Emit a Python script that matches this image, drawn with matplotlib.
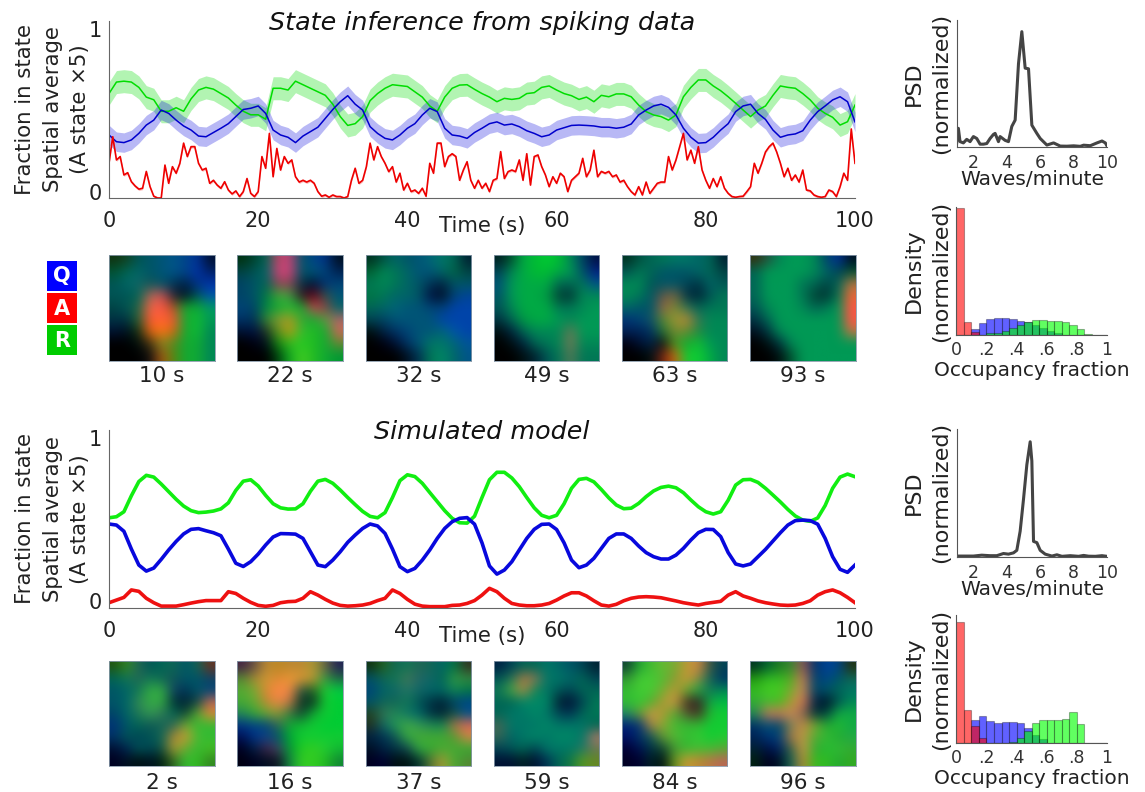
import numpy as np
import matplotlib
matplotlib.use('Agg')
import matplotlib.pyplot as plt

W, H = 1145, 792

time_1s = list(range(101))
time_half = [i * 0.5 for i in range(201)]

# top panel, inferred from spiking data
spike_green = [.59, .655, .66, .655, .625, .57, .555, .49, .49, .51, .49, .56, .61, .625, .615, .59, .565, .525, .49,
               .47, .47, .445, .62, .62, .61, .66, .64, .62, .60, .58, .53, .46, .41, .42, .46, .55, .59, .62, .64,
               .635, .63, .60, .57, .52, .49, .57, .62, .638, .64, .614, .59, .57, .544, .563, .557, .563, .59, .595,
               .625, .633, .61, .59, .578, .557, .57, .544, .58, .572, .588, .588, .572, .525, .488, .469, .46, .44,
               .469, .572, .625, .667, .667, .633, .606, .572, .535, .497, .46, .497, .52, .58, .633, .625, .62, .59,
               .554, .507, .478, .456, .412, .431, .525]
spike_blue = [.356, .318, .313, .328, .365, .412, .44, .497, .478, .44, .407, .384, .35, .346, .37, .394, .42, .46, .50,
              .507, .52, .478, .384, .356, .343, .313, .35, .375, .40, .45, .50, .544, .578, .53, .497, .403, .365,
              .337, .328, .356, .394, .42, .469, .507, .488, .394, .356, .35, .337, .37, .394, .42, .43, .412, .418,
              .403, .38, .365, .346, .356, .384, .397, .41, .412, .41, .407, .40, .40, .394, .40, .418, .469, .497,
              .52, .53, .512, .469, .394, .343, .31, .313, .343, .384, .42, .488, .52, .53, .478, .444, .384, .343,
              .356, .362, .38, .44, .488, .52, .554, .572, .544, .43]
spike_red = [.196, .346, .215, .234, .13, .143, .092, .068, .05, .055, .15, .064, .01, 0, 0, .186, .083, .177, .14, .196,
             .31, .234, .29, .29, .196, .158, .168, .083, .10, .073, .055, .092, .045, .023, .04, .008, .036, .11, .026,
             .008, .036, .234, .168, .365, .12, .28, .158, .234, .196, .215, .12, .09, .10, .09, .10, .083, .036, .01,
             .017, .004, .017, .008, .008, 0, .008, .10, .168, .083, .10, .177, .31, .215, .29, .234, .196, .149, .177,
             .09, .14, .045, .083, .036, .045, .026, .055, .01, .196, .14, .31, .31, .177, .234, .25, .234, .10, .158,
             .205, .10, .055, .10, .055, .083, .036, .10, .11, .262, .11, .149, .158, .149, .215, .10, .25, .073, .234,
             .243, .177, .13, .064, .12, .083, .14, .12, .036, .10, .12, .14, .224, .12, .158, .27, .12, .15, .14, .15,
             .12, .13, .09, .10, .064, .036, .017, .064, .017, .09, .026, .055, .083, .09, .09, .234, .158, .215, .29,
             .365, .215, .27, .196, .29, .158, .10, .055, .11, .064, .12, .055, .026, .008, .004, .008, .01, .036, .064,
             .196, .14, .196, .26, .29, .31, .26, .196, .12, .168, .10, .13, .09, .158, .045, .04, .017, .008, .004,
             .008, .045, .036, .008, .064, .14, .10, .39, .196]

# bottom panel, simulated model
model_green = [.506, .512, .54, .63, .71, .745, .735, .696, .653, .61, .572, .546, .535, .538, .544, .556, .59, .66,
               .712, .72, .685, .632, .585, .562, .555, .556, .585, .655, .712, .722, .70, .662, .62, .58, .542, .514,
               .506, .535, .62, .715, .748, .738, .70, .648, .597, .546, .503, .478, .476, .515, .62, .72, .762, .762,
               .73, .681, .62, .562, .52, .506, .52, .585, .672, .722, .728, .708, .665, .618, .578, .557, .56, .587,
               .625, .657, .677, .684, .675, .647, .606, .568, .54, .527, .54, .605, .69, .72, .722, .705, .672, .634,
               .595, .553, .516, .493, .486, .505, .575, .672, .735, .752, .737]
model_blue = [.471, .465, .43, .33, .24, .206, .223, .272, .325, .373, .415, .441, .445, .433, .422, .405, .33, .25,
              .232, .259, .302, .353, .398, .417, .416, .414, .39, .315, .24, .231, .268, .315, .368, .409, .446, .471,
              .46, .418, .33, .231, .203, .221, .268, .325, .39, .446, .484, .503, .507, .47, .365, .235, .189, .212,
              .259, .325, .39, .441, .469, .471, .44, .365, .268, .225, .24, .278, .334, .39, .415, .415, .39, .347,
              .31, .287, .274, .274, .296, .334, .381, .422, .441, .44, .40, .31, .246, .235, .246, .287, .328, .375,
              .422, .465, .49, .493, .49, .47, .39, .287, .216, .199, .24]
model_red = [.028, .043, .058, .10, .092, .053, .028, .009, .009, .009, .017, .026, .034, .04, .04, .04, .09, .08, .053,
             .03, .013, .008, .013, .028, .034, .036, .053, .09, .071, .047, .026, .013, .009, .011, .015, .024, .04,
             .053, .10, .08, .047, .02, .009, .006, .006, .006, .013, .015, .024, .04, .071, .109, .09, .053, .024,
             .015, .011, .011, .015, .024, .043, .066, .084, .084, .066, .039, .015, .009, .019, .039, .053, .06, .062,
             .06, .056, .047, .038, .028, .021, .015, .024, .03, .036, .071, .09, .066, .053, .038, .028, .021, .015,
             .013, .015, .024, .039, .071, .09, .10, .084, .058, .028]

# power spectra
psd_x_top = [1, 1.1, 1.2, 1.4, 1.6, 1.8, 2, 2.2, 2.4, 2.6, 2.8, 3, 3.2, 3.3, 3.5, 3.6, 3.9, 4.1, 4.3, 4.5, 4.7, 4.9, 5.1,
             5.3, 5.5, 5.8, 6, 6.4, 6.8, 7.2, 7.6, 8, 8.4, 8.6, 9, 9.4, 9.7, 9.9, 10]
psd_y_top = [.03, .145, .04, .03, .058, .04, .08, .065, .02, .02, .025, .065, .097, .105, .04, .08, .05, .04, .16, .21,
             .655, .908, .62, .615, .17, .105, .065, .013, .03, .005, .004, .007, .003, .012, .008, .03, .045, .03, .006]
psd_x_bot = [1, 1.5, 2, 2.5, 3, 3.4, 3.8, 4.1, 4.4, 4.6, 4.8, 5, 5.2, 5.4, 5.5, 5.6, 5.8, 6, 6.3, 6.7, 7, 7.3, 7.8, 8.3,
             8.6, 8.9, 9.3, 9.7, 10]
psd_y_bot = [.005, .005, .005, .012, .008, .008, .025, .02, .03, .05, .2, .45, .72, .9, .75, .12, .11, .05, .02, .005,
             .015, .003, .008, .003, .01, .004, .003, .008, .003]

# occupancy histograms, 20 bins of width .05
bin_left = [i * 0.05 for i in range(20)]
hist_red_top = [.995, .104, .026, 0, 0, 0, 0, 0, 0, 0, 0, 0, 0, 0, 0, 0, 0, 0, 0, 0]
hist_blue_top = [0, 0, .05, .096, .125, .13, .13, .125, .112, .104, .078, .052, .03, .012, 0, 0, 0, 0, 0, 0]
hist_green_top = [0, 0, 0, 0, .013, .018, .034, .052, .078, .104, .117, .117, .112, .109, .104, .078, .044, .008, 0, 0]
hist_red_bot = [.943, .255, .13, .04, 0, 0, 0, 0, 0, 0, 0, 0, 0, 0, 0, 0, 0, 0, 0, 0]
hist_blue_bot = [0, 0, .18, .208, .174, .16, .166, .166, .156, .117, .065, .03, 0, 0, 0, 0, 0, 0, 0, 0]
hist_green_bot = [0, 0, 0, 0, 0, 0, 0, .008, .04, .096, .156, .177, .182, .177, .187, .24, .15, 0, 0, 0]

tick_time = [0, 20, 40, 60, 80, 100]
tick_psd = [2, 4, 6, 8, 10]
tick_occ = [0, .2, .4, .6, .8, 1]
tick_occ_labels = ['0', '.2', '.4', '.6', '.8', '1']

labels_top = ['10 s', '22 s', '32 s', '49 s', '63 s', '93 s']
labels_bot = ['2 s', '16 s', '37 s', '59 s', '84 s', '96 s']

# snapshot frames, coarse RGB in one hex digit per channel
frames_top = [
    ['131 142 055 056 057 058 048 039 013', '053 065 066 056 057 058 048 03a 026', '055 066 166 155 056 035 024 038 03a',
     '055 055 065 a65 c55 223 012 055 05a', '044 055 264 e64 f54 a52 1a3 1a3 096', '034 034 263 f53 f63 e53 1a3 1b3 095',
     '013 012 131 d61 f71 c61 1a3 1b3 085', '000 000 011 431 882 582 1a3 1a3 085', '000 000 000 111 a51 581 1a3 1a3 085'],
    ['031 043 065 b46 b47 056 048 038 012', '044 055 066 c47 c47 056 057 047 025', '046 056 065 845 845 034 013 037 047',
     '046 056 074 4a3 494 312 601 354 057', '047 046 084 1a3 2b3 1a3 c45 844 066', '036 035 383 893 a92 3a3 1a3 694 a66',
     '013 014 232 592 b91 3b3 2b2 1a3 c65', '000 001 012 181 3b2 2c2 2b2 1a3 683', '000 000 000 041 1a2 4c2 2b2 1a3 093'],
    ['032 054 066 056 057 067 076 065 023', '063 085 075 066 057 057 066 064 044', '075 085 075 066 056 035 024 056 056',
     '074 075 066 066 056 014 012 047 049', '065 066 067 057 057 047 047 04a 04a', '045 046 057 057 057 057 04a 04a 04a',
     '011 024 036 047 057 057 067 05a 04a', '000 001 013 036 057 076 076 067 059', '000 000 000 012 035 075 086 066 058'],
    ['022 053 0a4 0b3 0c3 0b3 085 046 014', '045 085 0a4 0b3 0b3 0a4 095 056 028', '057 095 0a4 0a4 0a4 065 065 075 058',
     '056 095 0a4 0a4 094 043 033 085 085', '055 085 0a4 0a4 0a4 075 075 085 095', '034 065 094 0a4 0a4 095 085 095 095',
     '011 024 065 085 085 085 675 095 095', '000 011 024 065 075 085 775 085 085', '000 000 011 023 055 075 575 075 075'],
    ['032 054 065 075 076 076 066 065 023', '055 075 065 056 056 056 066 065 044', '085 085 055 056 056 045 034 066 055',
     '085 075 056 654 764 034 023 055 075', '066 056 056 964 783 375 065 075 075', '037 047 156 583 993 b83 375 085 085',
     '025 025 036 273 783 683 284 085 085', '001 013 024 111 492 1a3 1b3 095 085', '000 000 011 721 c61 1c3 1c3 0a4 085'],
    ['331 254 085 095 095 085 046 039 012', '065 095 095 095 095 085 066 045 053', '065 095 095 095 075 065 044 065 a74',
     '065 095 095 095 075 043 033 075 e63', '055 085 095 095 085 065 075 095 f54', '034 065 095 095 095 095 095 095 f54',
     '012 034 085 095 095 095 095 095 b74', '000 011 034 085 095 095 095 095 095', '000 000 011 053 095 095 095 095 095'],
]
frames_bot = [
    ['251 382 265 055 065 165 056 165 632', '065 175 265 175 165 155 056 056 146', '056 066 175 3a4 3a4 146 035 056 047',
     '056 066 385 3a4 3a4 033 023 144 b65', '046 066 275 395 375 065 143 5a3 d83', '037 056 065 155 165 365 7a3 3b3 3b3',
     '036 055 045 055 165 a83 c93 4b3 3b3', '013 025 055 045 154 a93 6a3 3b3 4b2', '002 012 011 012 021 362 3b3 3b2 382'],
    ['424 654 b83 b82 b83 b83 a93 664 225', '583 a83 c93 d83 e93 d93 b93 394 264', '5a3 7a3 d83 f84 e84 254 262 2c3 0c4',
     '4a3 6a3 b83 e84 b74 032 132 1c3 0c3', '285 3a3 6a3 893 374 143 1a3 1c3 0c3', '038 048 047 365 1a3 1b3 1c3 0c3 0c3',
     '015 038 148 056 0a3 1c3 1c3 1c3 1c3', '002 024 424 446 093 2c2 3c2 2c3 1b3', '001 002 012 112 184 3c2 3c2 2b2 183'],
    ['131 262 165 175 265 165 066 074 332', '056 165 175 475 266 166 065 394 384', '047 066 166 276 166 066 066 185 074',
     '056 165 165 175 055 034 023 046 048', '242 375 285 176 066 034 023 154 058', '232 166 295 4a4 395 285 185 a74 d65',
     '024 035 155 3a4 4a3 4a3 4a3 593 c84', '012 024 034 145 3a4 3a3 4a3 4a3 3a3', '002 003 011 011 033 573 a93 4a3 583'],
    ['024 045 065 065 076 066 056 045 023', '055 275 a74 875 076 076 066 065 045', '175 4a4 a84 185 076 055 045 065 065',
     '065 065 086 086 086 023 013 045 075', '065 076 076 086 076 045 035 065 075', '465 076 076 076 086 076 076 076 065',
     '365 066 076 086 076 086 086 076 a76', '045 055 065 045 076 076 076 276 675', '013 013 022 013 035 065 174 592 682'],
    ['143 2a3 4b3 6b3 7a3 b93 c84 354 045', '393 4c3 4c3 5b3 893 c93 884 165 036', '3b3 4c3 4c3 7a3 b93 6a3 2a4 175 085',
     '3b3 3c3 5a3 a93 c94 432 322 1a4 0b4', '286 693 c94 a93 5a3 553 432 2b3 1c3', '027 037 a84 8a3 4b3 3b3 3b3 1c3 1c3',
     '016 036 155 693 5b3 3b3 3c3 1c3 2c3', '003 015 034 143 493 3b3 4b3 4b3 5a3', '002 003 022 011 692 c93 b83 b74 b65'],
    ['032 063 272 383 955 036 049 048 231', '291 3b2 3b2 5a2 c75 046 048 056 165', '3b2 4c2 4c2 7a3 c85 046 056 065 076',
     '3a3 4b3 4b2 a93 d75 024 012 055 085', '285 c75 c75 c85 865 033 044 1a4 1a4', '036 057 046 785 c84 7a3 2a3 2b3 1a4',
     '025 037 047 a74 b94 5a3 3b3 2a3 2a4', '023 014 026 364 c94 3a3 2b3 3b3 3a3', '021 002 012 165 b83 3b2 3b2 2a3 3a2'],
]

state_names = ['Q', 'A', 'R']
state_colors = ['#0000ff', '#ff0000', '#00cc00']


def px_axes(fig, left, top, right, bottom):
    return fig.add_axes([left / W, 1 - bottom / H, (right - left) / W, (bottom - top) / H])


def clean_axes(ax, color):
    ax.spines['top'].set_visible(False)
    ax.spines['right'].set_visible(False)
    ax.spines['left'].set_color(color)
    ax.spines['bottom'].set_color(color)
    ax.patch.set_alpha(0)


def frame_to_rgb(rows):
    return np.array([[[int(c, 16) / 15 for c in cell] for cell in row.split()] for row in rows])


def time_panel(ax, title):
    clean_axes(ax, '#666666')
    ax.set_xlim(0, 100)
    ax.set_ylim(0, 1)
    ax.set_xticks(tick_time)
    ax.set_yticks([.035, .955], ['0', '1'])
    ax.tick_params(length=0, labelsize=15, labelcolor='#222222')
    ax.tick_params(axis='x', pad=9.5)
    ax.tick_params(axis='y', pad=5)
    ax.set_xlabel('Time (s)', fontsize=15.3, labelpad=-11, color='#222222')
    ax.set_ylabel('Fraction in state\nSpatial average\n(A state \u00d75)', fontsize=15.3, labelpad=-1,
                  linespacing=1.46, color='#222222')
    ax.set_title(title, y=0.95, pad=0, fontsize=18.3, style='italic', color='#111111')


def psd_panel(ax, x, y):
    clean_axes(ax, '#555555')
    ax.plot(x, y, color='#444444', lw=2.2, solid_joinstyle='round')
    ax.set_xlim(1, 10)
    ax.set_ylim(0, 1)
    ax.set_xticks(tick_psd)
    ax.set_yticks([])
    ax.tick_params(length=0, labelsize=12.5, labelcolor='#333333', pad=5)
    ax.set_xlabel('Waves/minute', fontsize=14.5, labelpad=-1, color='#222222')
    ax.set_ylabel('PSD\n(normalized)', fontsize=16, labelpad=4, linespacing=1.45, color='#222222')


def hist_panel(ax, blue, red, green):
    clean_axes(ax, '#555555')
    edge = (0, 0, 0, .3)
    ax.bar(bin_left, blue, width=.05, align='edge', color=(0, 0, 1, .62), edgecolor=edge, lw=.8)
    ax.bar(bin_left, red, width=.05, align='edge', color=(1, 0, 0, .6), edgecolor=edge, lw=.8)
    ax.bar(bin_left, green, width=.05, align='edge', color=(0, 1, 0, .62), edgecolor=edge, lw=.8)
    ax.set_xlim(0, 1)
    ax.set_ylim(0, 1)
    ax.set_xticks(tick_occ, tick_occ_labels)
    ax.set_yticks([])
    ax.tick_params(length=0, labelsize=12.5, labelcolor='#333333', pad=4)
    ax.set_xlabel('Occupancy fraction', fontsize=14.5, labelpad=2, color='#222222')
    ax.set_ylabel('Density\n(normalized)', fontsize=16, labelpad=4, linespacing=1.45, color='#222222')


def frame_row(fig, frames, labels, top, bottom, pad):
    lefts = [109, 237.3, 365.7, 493.7, 621.7, 750]
    for left, rows, label in zip(lefts, frames, labels):
        ax = px_axes(fig, left, top, left + 105.5, bottom)
        ax.imshow(frame_to_rgb(rows), interpolation='bicubic', aspect='auto')
        ax.set_xticks([])
        ax.set_yticks([])
        for s in ax.spines.values():
            s.set_color('#8899aa')
            s.set_linewidth(.6)
        ax.set_xlabel(label, fontsize=15.5, labelpad=pad, color='#222222')


fig = plt.figure(figsize=(W / 100, H / 100), dpi=100)

ax = px_axes(fig, 109, 21, 855, 198)
ax.fill_between(time_1s, np.array(spike_green) - .065, np.array(spike_green) + .065, color='#00dd00', alpha=.3, lw=0)
ax.fill_between(time_1s, np.array(spike_blue) - .055, np.array(spike_blue) + .055, color='#0000dd', alpha=.28, lw=0)
ax.fill_between(time_half, np.array(spike_red) - .008, np.array(spike_red) + .008, color='#ee0000', alpha=.25, lw=0)
ax.plot(time_1s, spike_green, color='#00dd00', lw=1.1)
ax.plot(time_1s, spike_blue, color='#0000cc', lw=1.1)
ax.plot(time_half, spike_red, color='#ee0000', lw=1.2)
time_panel(ax, 'State inference from spiking data')

ax = px_axes(fig, 109, 430, 855, 607.7)
ax.plot(time_1s, model_green, color='#11ee11', lw=2.6)
ax.plot(time_1s, model_blue, color='#0808dd', lw=2.6)
ax.plot(time_1s, model_red, color='#ee1111', lw=2.6)
time_panel(ax, 'Simulated model')

frame_row(fig, frames_top, labels_top, 255, 361, 3.5)
frame_row(fig, frames_bot, labels_bot, 661, 766, 5)

# Q / A / R colour key
for name, color, top in zip(state_names, state_colors, [260.7, 293, 325]):
    key = px_axes(fig, 46.7, top, 77, top + 30)
    key.set_facecolor(color)
    key.set_xticks([])
    key.set_yticks([])
    for s in key.spines.values():
        s.set_visible(False)
    key.text(.5, .48, name, color='white', fontsize=15, fontweight='bold', ha='center', va='center',
             transform=key.transAxes)

psd_panel(px_axes(fig, 956.7, 20, 1107, 146.7), psd_x_top, psd_y_top)
hist_panel(px_axes(fig, 956.3, 207, 1107, 335), hist_blue_top, hist_red_top, hist_green_top)
psd_panel(px_axes(fig, 956.7, 429, 1107, 556.7), psd_x_bot, psd_y_bot)
hist_panel(px_axes(fig, 956.3, 615, 1107, 743), hist_blue_bot, hist_red_bot, hist_green_bot)

plt.savefig('out.png', dpi=100)
